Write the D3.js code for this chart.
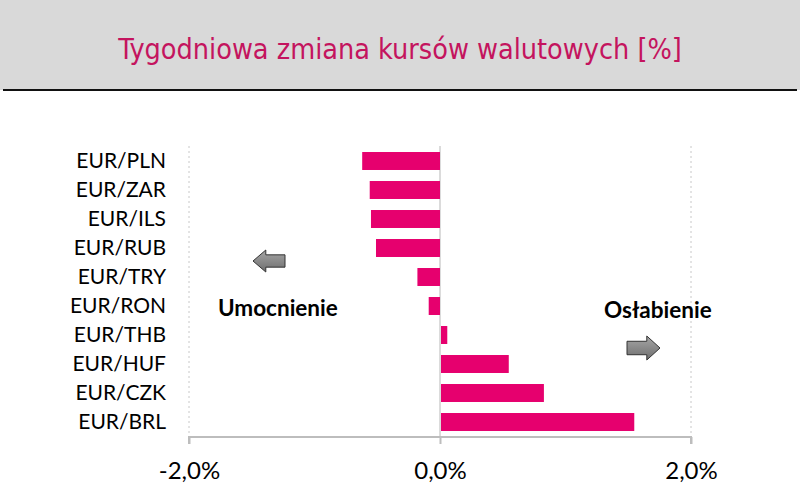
<!DOCTYPE html>
<html>
<head>
<meta charset="utf-8">
<script src="https://cdn.jsdelivr.net/npm/d3@7"></script>
<style>
  body { margin: 0; background: #fff; }
  svg { display: block; }
</style>
</head>
<body>
<div id="chart"></div>
<script>
// Data
var categories   = [ "EUR/PLN", "EUR/ZAR", "EUR/ILS", "EUR/RUB", "EUR/TRY",
                     "EUR/RON", "EUR/THB", "EUR/HUF", "EUR/CZK", "EUR/BRL" ];
var values       = [ -0.62, -0.56, -0.55, -0.51, -0.18, -0.09, 0.05, 0.54, 0.82, 1.54 ];
var tick_values  = [ -2, 0, 2 ];
var title_text   = "Tygodniowa zmiana kursów walutowych [%]";

var chart_width  = 800;
var chart_height = 494;
var pink         = "#e6006e";

var svg = d3.select("#chart")
    .append("svg")
    .attr("width", chart_width)
    .attr("height", chart_height);

// Title box
svg.append("rect")
    .attr("x", 0).attr("y", 0)
    .attr("width", chart_width).attr("height", 90)
    .attr("fill", "#d9d9d9");
svg.append("line")
    .attr("x1", 3).attr("x2", chart_width - 3)
    .attr("y1", 90).attr("y2", 90)
    .attr("stroke", "#111").attr("stroke-width", 2);
svg.append("text")
    .attr("x", 400).attr("y", 59)
    .attr("text-anchor", "middle")
    .attr("font-family", "'DejaVu Sans Condensed', 'DejaVu Sans', sans-serif")
    .attr("font-size", 28.5)
    .attr("fill", "#c4145e")
    .text(title_text);

// Scales
var x = d3.scaleLinear().domain([-2, 2]).range([189, 691]);
var y = d3.scaleBand().domain(categories).range([146.5, 436.5]).paddingInner(0.38).paddingOuter(0.19);

// Gridlines (dotted at -2 and 2)
svg.selectAll("line.grid")
    .data([-2, 2])
    .enter().append("line")
    .attr("class", "grid")
    .attr("x1", d => x(d)).attr("x2", d => x(d))
    .attr("y1", 146).attr("y2", 437)
    .attr("stroke", "#c8c8c8")
    .attr("stroke-dasharray", "2,3");

// Zero line
svg.append("line")
    .attr("x1", x(0)).attr("x2", x(0))
    .attr("y1", 146).attr("y2", 437)
    .attr("stroke", "#cfcfcf").attr("stroke-width", 1.5);

// Bars
svg.selectAll("rect.bar")
    .data(values)
    .enter().append("rect")
    .attr("class", "bar")
    .attr("x", d => x(Math.min(0, d)) + (d > 0 ? 1 : 0))
    .attr("width", d => Math.abs(x(d) - x(0)))
    .attr("y", (d, i) => y(categories[i]))
    .attr("height", y.bandwidth())
    .attr("fill", pink);

// X axis
var xAxis = d3.axisBottom(x)
    .tickValues(tick_values)
    .tickSize(7)
    .tickPadding(18)
    .tickFormat(d => d3.format(".1f")(d).replace("−", "-").replace(".", ",") + "%");
var gx = svg.append("g")
    .attr("transform", "translate(0,437)")
    .call(xAxis);
gx.select(".domain").attr("stroke", "#bdbdbd").attr("stroke-width", 2)
    .attr("d", "M" + x(-2) + ",7V0H" + x(2) + "V7");
gx.selectAll(".tick line").attr("stroke", "#bdbdbd").attr("stroke-width", 2);
gx.selectAll(".tick text")
    .attr("font-family", "Lato, 'Open Sans', sans-serif")
    .attr("font-size", 24)
    .attr("fill", "#000");

// Y labels
var yAxis = d3.axisLeft(y).tickSize(0).tickPadding(0);
var gy = svg.append("g")
    .attr("transform", "translate(166,0)")
    .call(yAxis);
gy.select(".domain").remove();
gy.selectAll(".tick text")
    .attr("font-family", "Lato, 'Open Sans', sans-serif")
    .attr("font-size", 21)
    .attr("fill", "#000");

// Annotations
svg.append("text")
    .attr("x", 218).attr("y", 316)
    .attr("font-family", "Lato, 'Open Sans', sans-serif")
    .attr("font-weight", "bold")
    .attr("font-size", 22.5)
    .text("Umocnienie");
svg.append("text")
    .attr("x", 604).attr("y", 318)
    .attr("font-family", "Lato, 'Open Sans', sans-serif")
    .attr("font-weight", "bold")
    .attr("font-size", 22.5)
    .text("Osłabienie");

// Arrows
var defs = svg.append("defs");
var grad = defs.append("linearGradient")
    .attr("id", "arrowGrad").attr("x1", 0).attr("y1", 0).attr("x2", 0).attr("y2", 1);
grad.append("stop").attr("offset", "0%").attr("stop-color", "#a6a6a6");
grad.append("stop").attr("offset", "100%").attr("stop-color", "#6e6e6e");

function arrowPath(w, h) {
    // right-pointing arrow, origin at left-middle
    var shaft = h * 0.28, head = w * 0.4;
    return "M0," + (-shaft) + "H" + (w - head) + "V" + (-h / 2) +
           "L" + w + ",0L" + (w - head) + "," + (h / 2) + "V" + shaft + "H0Z";
}
svg.append("path")
    .attr("d", arrowPath(32, 22))
    .attr("transform", "translate(285,261) scale(-1,1)")
    .attr("fill", "url(#arrowGrad)")
    .attr("stroke", "#333").attr("stroke-width", 1);
svg.append("path")
    .attr("d", arrowPath(33, 24))
    .attr("transform", "translate(627,348)")
    .attr("fill", "url(#arrowGrad)")
    .attr("stroke", "#333").attr("stroke-width", 1);
</script>
</body>
</html>
